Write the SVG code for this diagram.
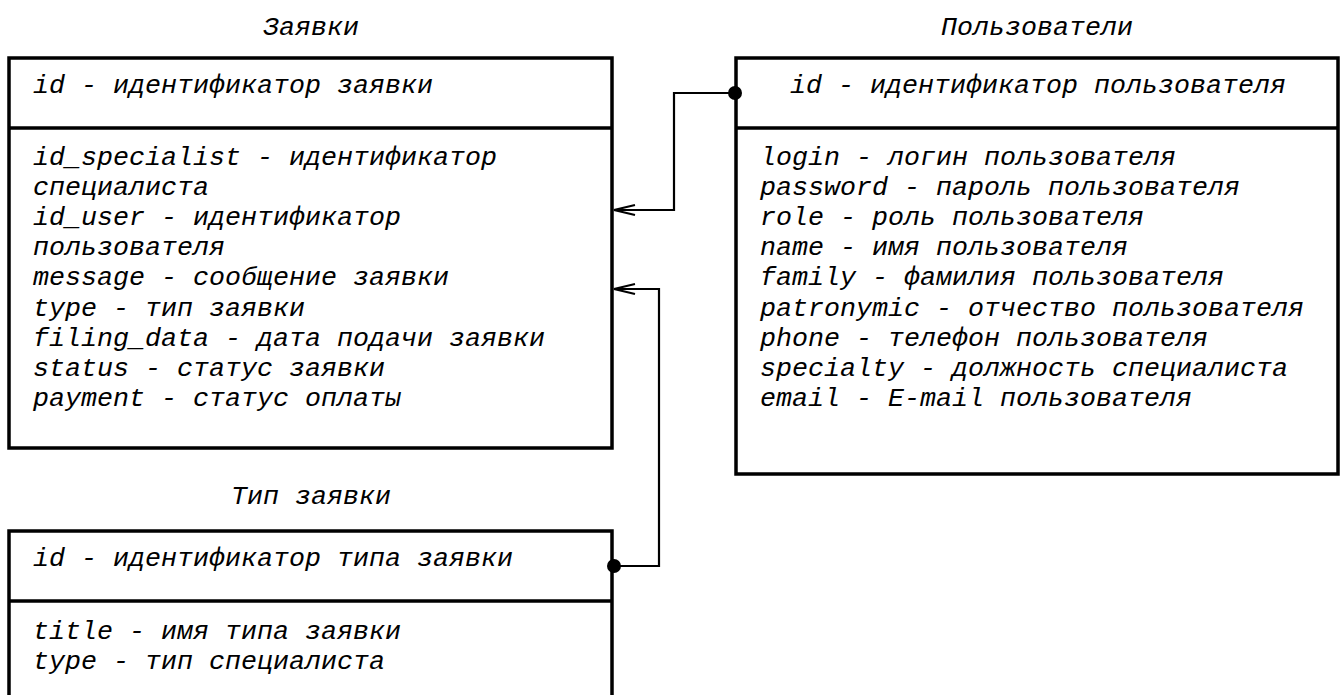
<svg xmlns="http://www.w3.org/2000/svg" width="1341" height="695" viewBox="0 0 1341 695">
<style>
.box{fill:#fff;stroke:#000;stroke-width:3.5}
.div{stroke:#000;stroke-width:3.5}
.t{font-family:"Liberation Mono","Courier New",monospace;font-style:italic;font-size:26.67px;fill:#000}
.c{text-anchor:middle}
.conn{fill:none;stroke:#000;stroke-width:2.2}
</style>
<defs>
<marker id="arr" markerUnits="userSpaceOnUse" markerWidth="30" markerHeight="20" viewBox="-24 -10 30 20" refX="0" refY="0" orient="auto">
<path d="M-21,-5 L0,0 L-21,5" fill="none" stroke="#000" stroke-width="2.2"/>
</marker>
</defs>
<rect width="1341" height="695" fill="#fff"/>
<g id="zayavki">
<text class="t c" x="311" y="35">Заявки</text>
<rect class="box" x="9" y="58" width="603" height="390"/>
<line class="div" x1="9" y1="128" x2="612" y2="128"/>
<text class="t" x="33" y="93">id - идентификатор заявки</text>
<text class="t" x="33" y="165">id_specialist - идентификатор</text>
<text class="t" x="33" y="195">специалиста</text>
<text class="t" x="33" y="225">id_user - идентификатор</text>
<text class="t" x="33" y="255">пользователя</text>
<text class="t" x="33" y="285">message - сообщение заявки</text>
<text class="t" x="33" y="316">type - тип заявки</text>
<text class="t" x="33" y="346">filing_data - дата подачи заявки</text>
<text class="t" x="33" y="376">status - статус заявки</text>
<text class="t" x="33" y="406">payment - статус оплаты</text>
</g>
<g id="polzovateli">
<text class="t c" x="1037" y="35">Пользователи</text>
<rect class="box" x="736" y="58" width="602" height="416"/>
<line class="div" x1="736" y1="128" x2="1338" y2="128"/>
<text class="t c" x="1038" y="93">id - идентификатор пользователя</text>
<text class="t" x="760" y="165">login - логин пользователя</text>
<text class="t" x="760" y="195">password - пароль пользователя</text>
<text class="t" x="760" y="225">role - роль пользователя</text>
<text class="t" x="760" y="255">name - имя пользователя</text>
<text class="t" x="760" y="285">family - фамилия пользователя</text>
<text class="t" x="760" y="316">patronymic - отчество пользователя</text>
<text class="t" x="760" y="346">phone - телефон пользователя</text>
<text class="t" x="760" y="376">specialty - должность специалиста</text>
<text class="t" x="760" y="406">email - E-mail пользователя</text>
</g>
<g id="tip-zayavki">
<text class="t c" x="311" y="504">Тип заявки</text>
<rect class="box" x="9" y="531" width="603" height="200"/>
<line class="div" x1="9" y1="601" x2="612" y2="601"/>
<text class="t" x="33" y="566">id - идентификатор типа заявки</text>
<text class="t" x="33" y="639">title - имя типа заявки</text>
<text class="t" x="33" y="669">type - тип специалиста</text>
</g>
<g id="connectors">
<path class="conn" d="M735,93 H674 V210 H614" marker-end="url(#arr)"/>
<circle cx="735" cy="93" r="7" fill="#000"/>
<path class="conn" d="M614,566 H659 V289 H614" marker-end="url(#arr)"/>
<circle cx="614" cy="566" r="7" fill="#000"/>
</g>
</svg>
